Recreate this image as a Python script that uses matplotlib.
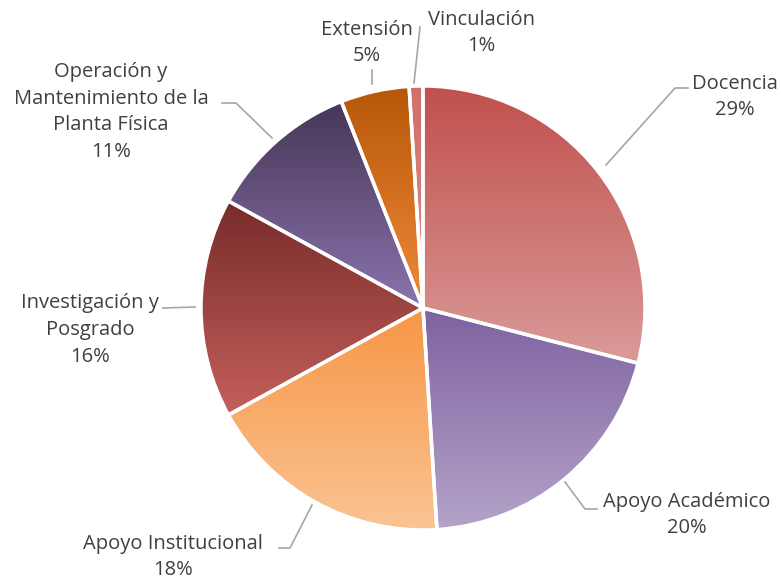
import numpy as np
import matplotlib.pyplot as plt
from matplotlib.colors import LinearSegmentedColormap

# presupuesto por función (%)
categorias = ['Docencia', 'Apoyo Académico', 'Apoyo Institucional',
              'Investigación y\nPosgrado',
              'Operación y\nMantenimiento de la\nPlanta Física',
              'Extensión', 'Vinculación']
valores = [29, 20, 18, 16, 11, 5, 1]

# degradado vertical de cada rebanada (arriba, abajo)
degradados = [('#C0504D', '#DA9A98'), ('#7F62A1', '#B4A4C9'), ('#F79646', '#FAC493'),
              ('#772C2A', '#C45F5C'), ('#463657', '#8A74AD'), ('#B65708', '#F08A3A'),
              ('#D0706D', '#D88C8A')]

# posiciones de etiquetas y líneas guía (pixeles, y hacia abajo)
pos_texto = [(735, 97), (687, 515), (173, 557), (90, 330), (111, 112), (367, 43), (481, 33)]
guias = [[(606, 165), (675, 88), (688, 88)],
         [(565, 482), (585, 509), (597, 509)],
         [(312, 505), (290, 548), (279, 548)],
         [(195, 307), (163, 308)],
         [(272, 138), (236, 103), (222, 103)],
         [(372, 84), (372, 70)],
         [(414, 83), (420, 27)]]

W, H = 781, 580
fig = plt.figure(figsize=(W / 100, H / 100), dpi=100)
ax = fig.add_axes([0, 0, 1, 1])
ax.set_xlim(0, W)
ax.set_ylim(0, H)
ax.axis('off')

cx, cy, r = 423, H - 308, 222
wedges, _ = ax.pie(valores, center=(cx, cy), radius=r, startangle=90, counterclock=False,
                   colors=['none'] * len(valores),
                   wedgeprops=dict(edgecolor='white', linewidth=2.5))
ax.set_xlim(0, W)
ax.set_ylim(0, H)

grad = np.linspace(0, 1, 256).reshape(-1, 1)
for w, (c1, c2) in zip(wedges, degradados):
    ext = w.get_path().get_extents(w.get_patch_transform())
    cmap = LinearSegmentedColormap.from_list('g', [c2, c1])
    im = ax.imshow(grad, cmap=cmap, origin='lower', aspect='auto',
                   extent=(ext.x0, ext.x1, ext.y0, ext.y1), zorder=1)
    im.set_clip_path(w)
    w.set_zorder(2)

for nombre, v, (tx, ty), g in zip(categorias, valores, pos_texto, guias):
    ax.text(tx, H - ty, f'{nombre}\n{v}%', ha='center', va='center', fontsize=14.5,
            color='#404040', family='Open Sans', linespacing=1.45)
    xs, ys = zip(*g)
    ax.plot(xs, [H - y for y in ys], color='#A6A6A6', lw=1.2, zorder=3)

fig.savefig('out.png', dpi=100)
